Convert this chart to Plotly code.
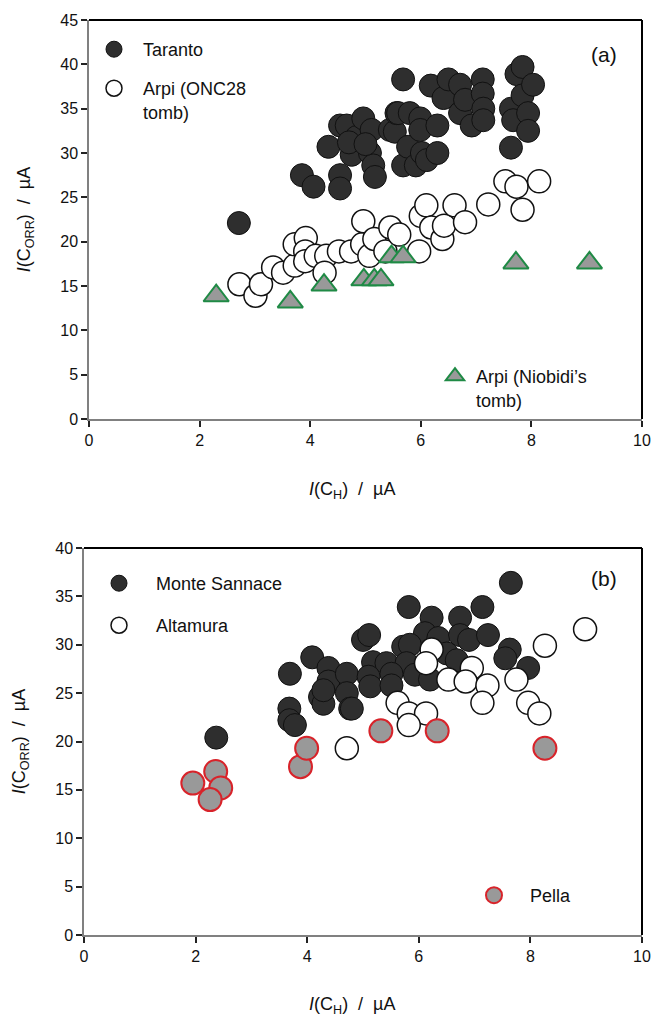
import plotly.graph_objects as go

# ---------------- Data: panel (a) ----------------
taranto_x = [2.71, 3.85, 4.06, 4.33, 4.54, 4.54, 4.54, 4.66, 4.75, 4.84, 4.96, 5.08, 5.11, 5.14, 5.17,
             4.70, 5.00, 5.44, 5.53, 5.56, 5.59, 5.68, 5.68, 5.77, 5.80, 5.91, 5.99, 5.99, 6.02, 6.11,
             6.18, 6.30, 6.30, 6.41, 6.50, 6.71, 6.71, 6.80, 6.92, 7.12, 7.12, 7.13, 7.13, 7.63, 7.63,
             7.67, 7.73, 7.84, 7.84, 7.94, 7.94, 8.03]
taranto_y = [22.1, 27.5, 26.2, 30.7, 33.1, 27.5, 26.0, 33.1, 29.8, 31.8, 33.9, 30.0, 32.6, 28.6, 27.3,
             31.2, 31.0, 32.6, 32.4, 34.5, 34.5, 38.3, 28.6, 30.7, 34.5, 28.6, 33.9, 32.6, 30.0, 29.2,
             37.6, 33.1, 30.0, 36.2, 38.3, 37.7, 34.5, 36.0, 33.1, 38.3, 36.7, 35.0, 33.7, 35.0, 30.6,
             33.7, 38.9, 39.7, 36.5, 34.5, 32.5, 37.7]

onc28_x = [2.72, 3.01, 3.11, 3.33, 3.51, 3.72, 3.72, 3.92, 3.91, 3.91, 4.10, 4.29, 4.26, 4.52, 4.74,
           4.94, 4.96, 5.07, 5.16, 5.36, 5.45, 5.61, 5.97, 6.00, 6.10, 6.19, 6.39, 6.42, 6.61, 6.80,
           7.22, 7.53, 7.73, 8.14, 7.84]
onc28_y = [15.2, 13.9, 15.2, 17.1, 16.5, 17.3, 19.7, 20.4, 18.9, 17.8, 18.4, 18.4, 16.5, 18.9, 18.9,
           19.7, 22.3, 18.4, 20.3, 18.9, 21.6, 20.8, 18.9, 22.9, 24.1, 21.6, 20.3, 21.8, 24.1, 22.2,
           24.2, 26.8, 26.2, 26.8, 23.6]

niobidi_x = [2.30, 3.64, 4.25, 4.97, 5.16, 5.28, 5.47, 5.68, 7.72, 9.05]
niobidi_y = [13.9, 13.2, 15.1, 15.7, 15.7, 15.7, 18.3, 18.3, 17.6, 17.6]

# ---------------- Data: panel (b) ----------------
sannace_x = [2.37, 3.69, 3.68, 3.68, 3.78, 4.09, 4.23, 4.29, 4.38, 4.38, 4.71, 4.71, 4.77, 5.00, 4.29,
             7.65, 5.82, 6.23, 6.74, 7.14, 5.11, 6.11, 6.35, 6.74, 6.90, 7.24, 5.72, 5.84, 5.18, 5.42,
             5.78, 6.50, 6.68, 7.63, 7.55, 7.96, 5.10, 5.51, 5.93, 6.20, 5.13, 5.51, 4.80]
sannace_y = [20.4, 27.0, 23.4, 22.2, 21.7, 28.7, 24.6, 23.9, 27.6, 26.2, 27.0, 25.0, 23.4, 30.5, 25.3,
             36.4, 33.9, 32.8, 32.8, 33.9, 31.0, 31.2, 30.7, 31.0, 30.5, 31.0, 29.8, 30.0, 28.2, 28.1,
             28.1, 29.1, 28.4, 29.5, 28.6, 27.6, 26.7, 27.0, 26.9, 26.4, 25.7, 25.8, 23.4]

altamura_x = [8.98, 8.26, 6.23, 6.13, 6.95, 6.53, 6.84, 7.23, 7.75, 7.14, 7.96, 5.62, 5.82, 6.13, 5.82,
              8.16, 4.71]
altamura_y = [31.6, 29.9, 29.5, 28.1, 27.6, 26.4, 26.2, 25.8, 26.4, 24.0, 24.0, 24.0, 22.9, 22.9, 21.7,
              22.9, 19.3]

pella_x = [1.95, 2.36, 2.45, 2.26, 3.88, 3.99, 5.32, 6.33, 8.26]
pella_y = [15.7, 16.9, 15.2, 14.0, 17.4, 19.3, 21.1, 21.1, 19.3]

x_ticks = [0, 2, 4, 6, 8, 10]
ya_ticks = [0, 5, 10, 15, 20, 25, 30, 35, 40, 45]
yb_ticks = [0, 5, 10, 15, 20, 25, 30, 35, 40]

FONT = "Liberation Sans, Arial, sans-serif"
DARK = "#2e2e2e"
GREY = "#999999"
GREEN = "#1f8a45"
RED = "#d8232a"

fig = go.Figure()

fig.add_trace(go.Scatter(x=taranto_x, y=taranto_y, mode="markers", name="Taranto",
                         xaxis="x", yaxis="y", legend="legend",
                         marker=dict(size=23, color=DARK, line=dict(color="#111111", width=1))))
fig.add_trace(go.Scatter(x=onc28_x, y=onc28_y, mode="markers", name="Arpi (ONC28<br>tomb)",
                         xaxis="x", yaxis="y", legend="legend2",
                         marker=dict(size=23, color="white", line=dict(color="#111111", width=1.5))))
fig.add_trace(go.Scatter(x=niobidi_x, y=niobidi_y, mode="markers", name="Arpi (Niobidi\u2019s<br>tomb)",
                         xaxis="x", yaxis="y", legend="legend3",
                         marker=dict(size=22, symbol="triangle-up", color=GREY,
                                     line=dict(color=GREEN, width=2))))

fig.add_trace(go.Scatter(x=sannace_x, y=sannace_y, mode="markers", name="Monte Sannace",
                         xaxis="x2", yaxis="y2", legend="legend4",
                         marker=dict(size=23, color=DARK, line=dict(color="#111111", width=1))))
fig.add_trace(go.Scatter(x=altamura_x, y=altamura_y, mode="markers", name="Altamura",
                         xaxis="x2", yaxis="y2", legend="legend5",
                         marker=dict(size=23, color="white", line=dict(color="#111111", width=1.5))))
fig.add_trace(go.Scatter(x=pella_x, y=pella_y, mode="markers", name="Pella",
                         xaxis="x2", yaxis="y2", legend="legend6",
                         marker=dict(size=23, color=GREY, line=dict(color=RED, width=2))))

W, H = 651, 1025
ML, MR, MT, MB = 84, 9, 20, 90
PW, PH = W - ML - MR, H - MT - MB


def px2paper(px, py):
    return (px - ML) / PW, (H - MB - py) / PH


def leg(px, py, itemwidth=30):
    x, y = px2paper(px, py)
    return dict(x=x, y=y, xref="paper", yref="paper",
                xanchor="left", yanchor="top", bgcolor="rgba(0,0,0,0)",
                font=dict(family=FONT, size=18, color="#111111"),
                itemwidth=itemwidth, valign="top", itemsizing="trace",
                tracegroupgap=0)


xtitle = "<i>I</i>(C<sub>H</sub>)  /  \u00b5A"
ytitle = "<i>I</i>(C<sub>ORR</sub>)  /  \u00b5A"

axis_common = dict(showgrid=False, zeroline=False, showline=True, linecolor="#808080", linewidth=1.5,
                   ticks="outside", ticklen=6, tickwidth=1.5, tickcolor="#222222",
                   tickfont=dict(family=FONT, size=16, color="#111111"),
                   title_font=dict(family=FONT, size=18, color="#111111"))

top_dom = [(935 - 419) / PH, 1.0]
bot_dom = [0.0, (935 - 548) / PH]

ta_x, ta_y = px2paper(352, 490)
tb_x, tb_y = px2paper(352, 1005)

fig.update_layout(
    width=W, height=H,
    margin=dict(l=ML, r=MR, t=MT, b=MB, autoexpand=False),
    plot_bgcolor="white", paper_bgcolor="white",
    showlegend=True,
    xaxis=dict(axis_common, domain=[5 / PW, 1.0], range=[0, 10], tickvals=x_ticks, anchor="y"),
    yaxis=dict(axis_common, domain=top_dom, range=[0, 45], tickvals=ya_ticks, anchor="x",
               title=dict(text=ytitle, standoff=25)),
    xaxis2=dict(axis_common, domain=[0.0, 1.0], range=[0, 10], tickvals=x_ticks, anchor="y2"),
    yaxis2=dict(axis_common, domain=bot_dom, range=[0, 40], tickvals=yb_ticks, anchor="x2",
                title=dict(text=ytitle, standoff=25)),
    legend=leg(85, 31, 48),
    legend2=leg(85, 70, 48),
    legend3=leg(434, 358, 32),
    legend4=leg(82, 565, 64),
    legend5=leg(82, 607, 64),
    legend6=leg(458, 877, 62),
    annotations=[
        dict(text="(a)", xref="x domain", yref="y domain", x=(604 - 89) / 553, y=(419 - 54) / 399,
             xanchor="center", yanchor="middle", showarrow=False,
             font=dict(family=FONT, size=21, color="#111111")),
        dict(text="(b)", xref="x2 domain", yref="y2 domain", x=(604 - 84) / 558, y=(935 - 579) / 387,
             xanchor="center", yanchor="middle", showarrow=False,
             font=dict(family=FONT, size=21, color="#111111")),
        dict(text=xtitle, xref="paper", yref="paper", x=ta_x, y=ta_y, showarrow=False,
             xanchor="center", yanchor="middle", font=dict(family=FONT, size=18, color="#111111")),
        dict(text=xtitle, xref="paper", yref="paper", x=tb_x, y=tb_y, showarrow=False,
             xanchor="center", yanchor="middle", font=dict(family=FONT, size=18, color="#111111")),
    ],
    shapes=[
        dict(type="line", xref="x domain", yref="y domain", x0=0, x1=1, y0=1, y1=1,
             line=dict(color="black", width=2)),
        dict(type="line", xref="x domain", yref="y domain", x0=1, x1=1, y0=0, y1=1,
             line=dict(color="black", width=2)),
        dict(type="line", xref="x2 domain", yref="y2 domain", x0=0, x1=1, y0=1, y1=1,
             line=dict(color="black", width=2)),
        dict(type="line", xref="x2 domain", yref="y2 domain", x0=1, x1=1, y0=0, y1=1,
             line=dict(color="black", width=2)),
    ],
)

fig.write_html("out.html", config={"displayModeBar": False},
               post_script="document.body.style.margin='0px';")
